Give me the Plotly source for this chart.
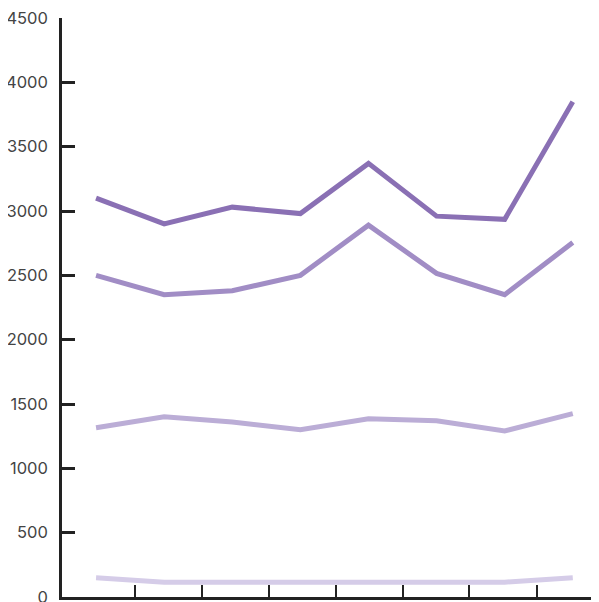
import plotly.graph_objs as go

# eight periods, no x labels shown in the original
periods = [0, 1, 2, 3, 4, 5, 6, 7]

series_a = [3100, 2900, 3030, 2980, 3370, 2960, 2935, 3850]
series_b = [2500, 2350, 2380, 2500, 2890, 2515, 2350, 2755]
series_c = [1315, 1400, 1360, 1300, 1385, 1370, 1290, 1425]
series_d = [150, 115, 115, 115, 115, 115, 115, 150]

y_ticks = [0, 500, 1000, 1500, 2000, 2500, 3000, 3500, 4000, 4500]
x_ticks = [0.57, 1.56, 2.54, 3.52, 4.51, 5.48, 6.48]

colors = ['#8a70b4', '#a18dc5', '#bbadd6', '#d5cce8']

fig = go.Figure()
for ys, c in zip([series_d, series_c, series_b, series_a], colors[::-1]):
    fig.add_trace(go.Scatter(x=periods, y=ys, mode='lines',
                             line=dict(color=c, width=5), showlegend=False,
                             hoverinfo='skip', cliponaxis=False))

# page body keeps its default 8px margin, so the figure is 8px smaller
fig.update_layout(
    width=591, height=594,
    margin=dict(l=54, r=0, t=10, b=5, autoexpand=False),
    plot_bgcolor='white', paper_bgcolor='white',
    font=dict(family='Inter, Liberation Sans, sans-serif', size=16.5, color='#444444'),
    xaxis=dict(range=[-0.5, 7.385], tickvals=x_ticks, showticklabels=False,
               ticks='inside', ticklen=12, tickwidth=2, tickcolor='#222222',
               showline=True, linecolor='#222222', linewidth=2.5,
               showgrid=False, zeroline=False, automargin=False),
    yaxis=dict(range=[0, 4500], tickvals=y_ticks,
               ticks='inside', ticklen=13, tickwidth=2.5, tickcolor='#222222',
               showline=True, linecolor='#222222', linewidth=2.5,
               showgrid=False, zeroline=False, ticklabelstandoff=8,
               ticklabeloverflow='allow', automargin=False),
)

fig.write_html("out.html")
